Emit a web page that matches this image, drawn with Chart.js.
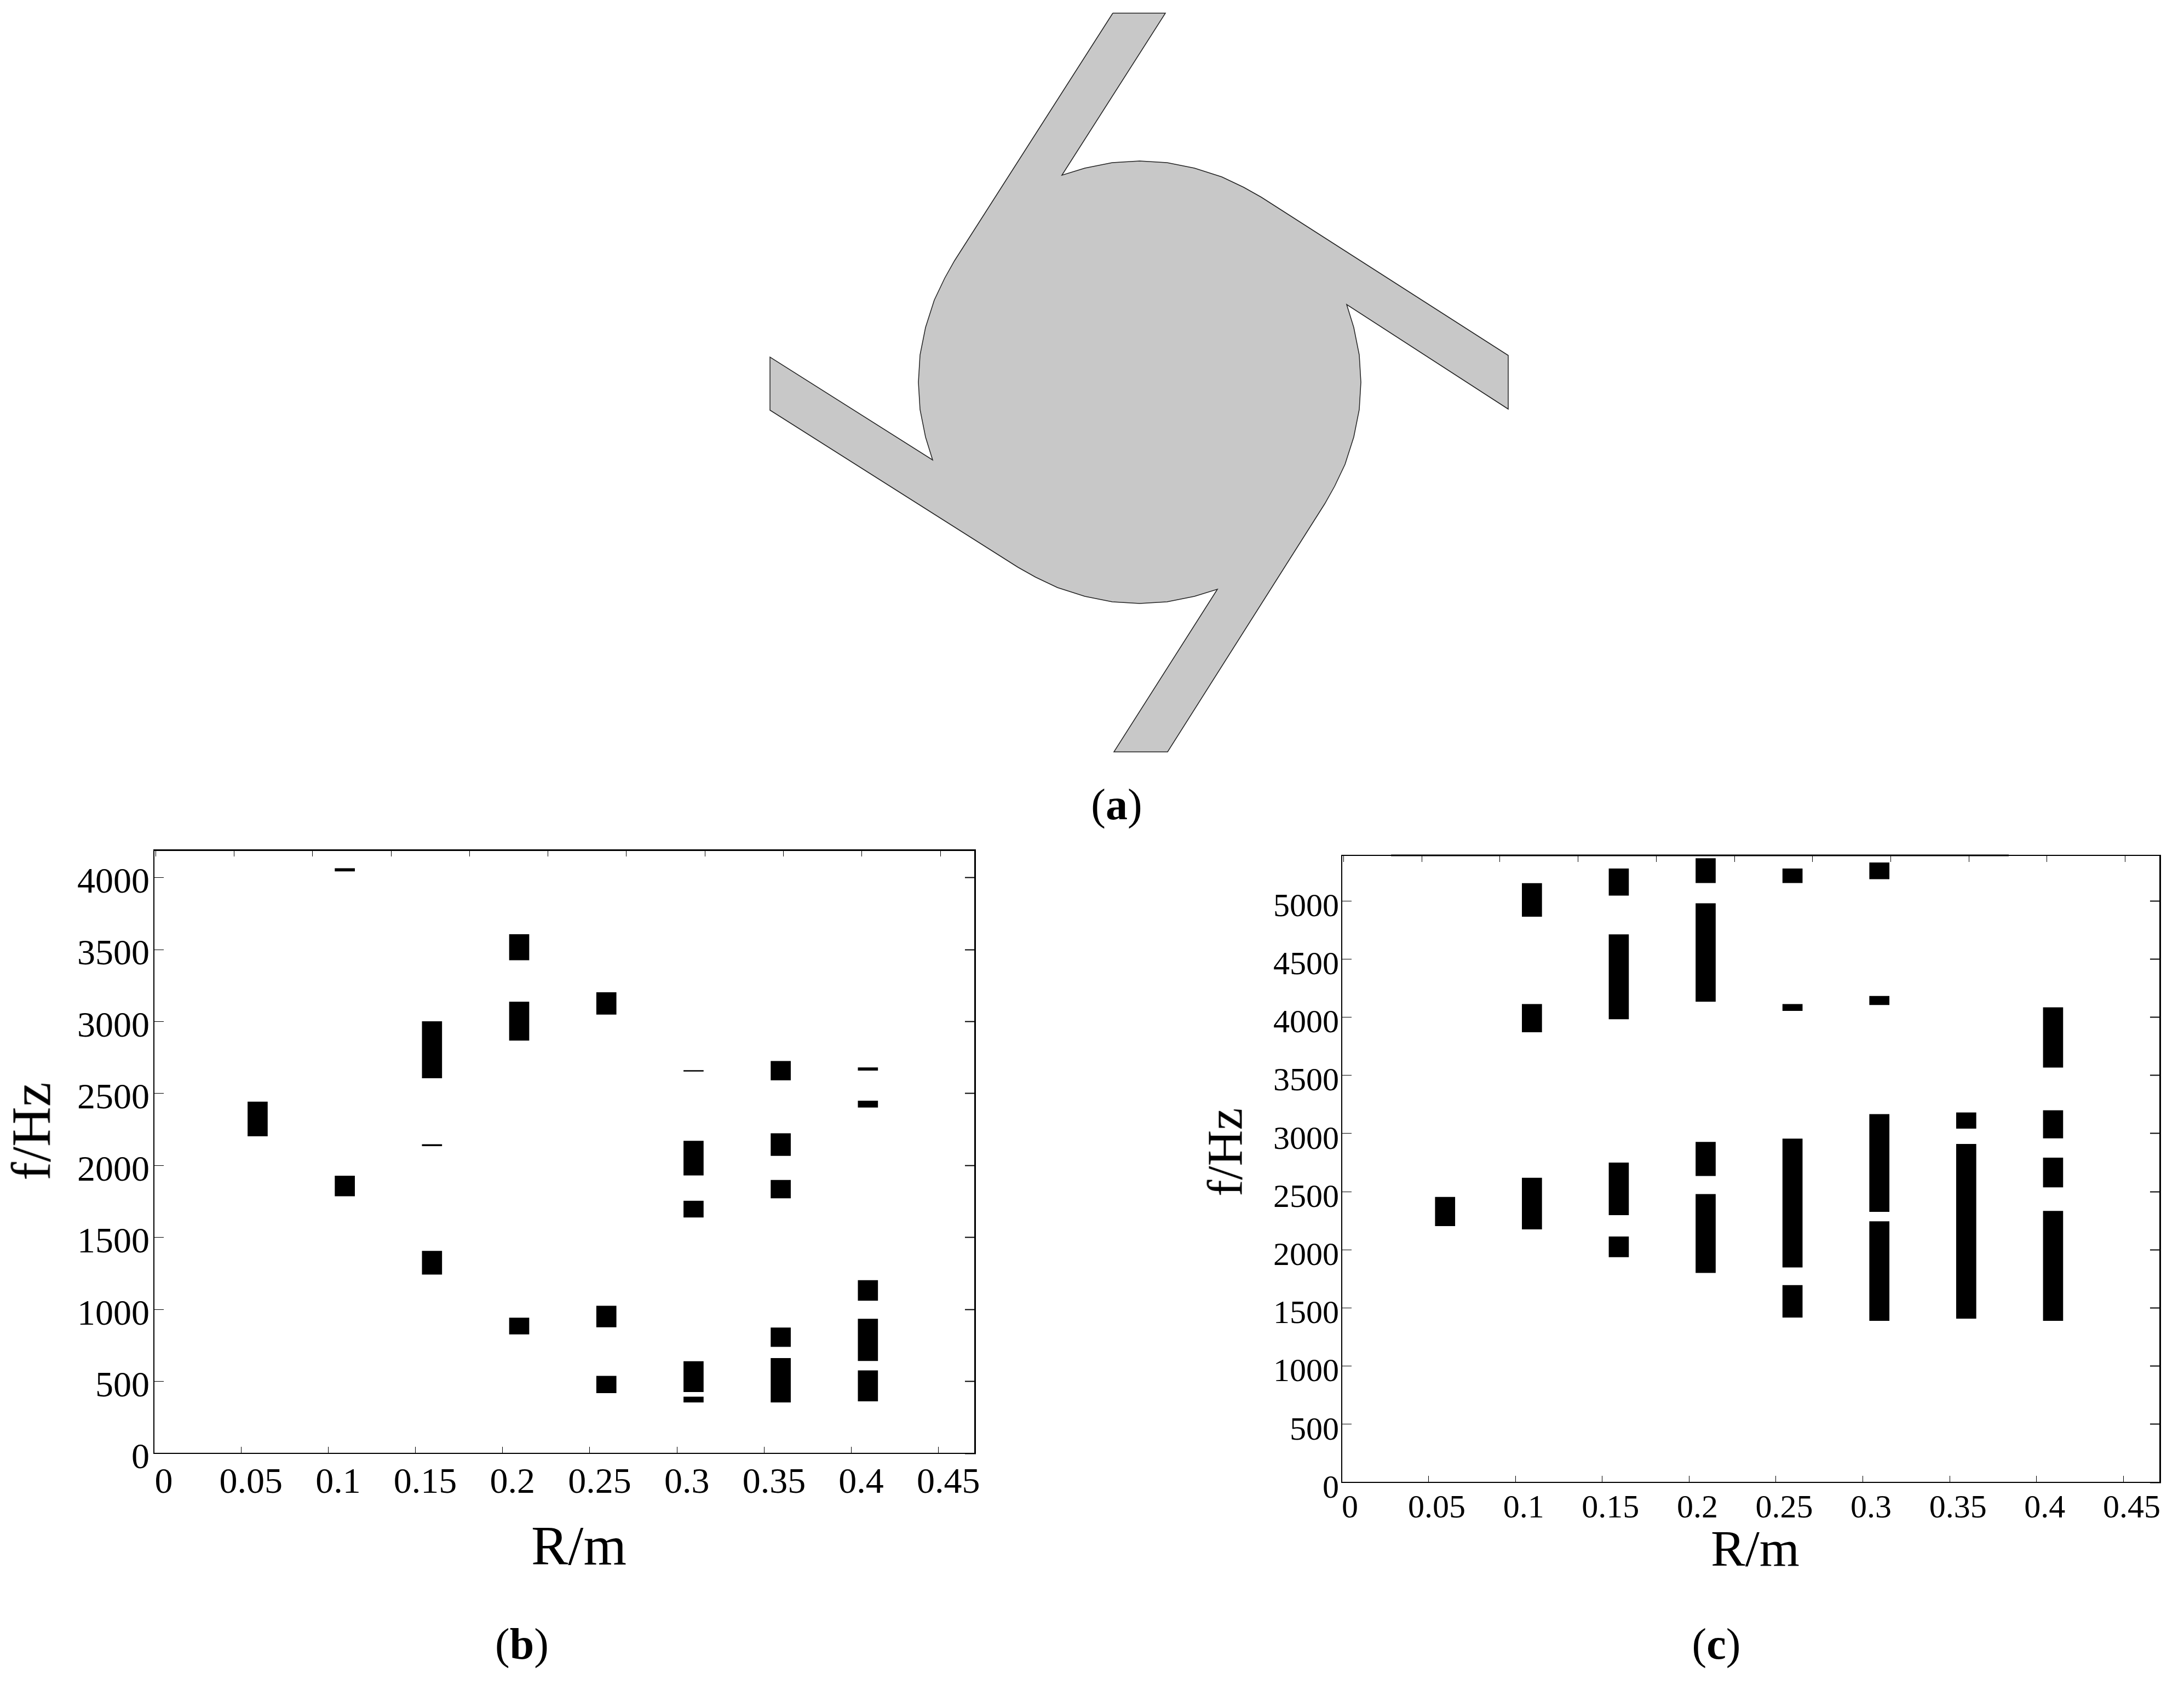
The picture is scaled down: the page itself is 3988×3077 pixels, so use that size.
<!DOCTYPE html>
<html>
<head>
<meta charset="utf-8">
<script src="https://cdn.jsdelivr.net/npm/chart.js@4"></script>
<style>
  html, body { margin: 0; padding: 0; background: #fff; }
  body { position: relative; width: 3988px; height: 3077px; overflow: hidden; font-family: "Liberation Serif", serif; color: #000; }
  canvas { position: absolute; display: block; }
  .txt { position: absolute; white-space: nowrap; line-height: 1; transform: translate(-50%, -50%); }
  .rot { transform: translate(-50%, -50%) rotate(-90deg); }
</style>
</head>
<body>
<canvas id="shape" width="1400" height="1400" style="left:1380px;top:0"></canvas>
<canvas id="chartB" width="1880" height="1360" style="left:0;top:1480px"></canvas>
<canvas id="chartC" width="1788" height="1300" style="left:2200px;top:1500px"></canvas>

<div class="txt" style="left:2039px;top:1469px;font-size:80px">(<b>a</b>)</div>
<div class="txt" style="left:953px;top:3002px;font-size:80px">(<b>b</b>)</div>
<div class="txt" style="left:3134px;top:3002px;font-size:80px">(<b>c</b>)</div>
<div class="txt" style="left:1057px;top:2823px;font-size:101px">R/m</div>
<div class="txt rot" style="left:58px;top:2066px;font-size:101px">f/Hz</div>
<div class="txt" style="left:3205px;top:2827px;font-size:94px">R/m</div>
<div class="txt rot" style="left:2237px;top:2104px;font-size:91px">f/Hz</div>

<script>
// tick labels
const rTicks = [0, 0.05, 0.1, 0.15, 0.2, 0.25, 0.3, 0.35, 0.4, 0.45];
const fTicksB = [0, 500, 1000, 1500, 2000, 2500, 3000, 3500, 4000];
const fTicksC = [0, 500, 1000, 1500, 2000, 2500, 3000, 3500, 4000, 4500, 5000];

// panel (b) band gaps
const bandR_B = [0.0595, 0.1095, 0.1095, 0.1595, 0.1595, 0.1595, 0.2095, 0.2095, 0.2095, 0.2595, 0.2595, 0.2595, 0.3095, 0.3095, 0.3095, 0.3095, 0.3095, 0.3595, 0.3595, 0.3595, 0.3595, 0.3595, 0.4095, 0.4095, 0.4095, 0.4095, 0.4095];
const bandLow_B = [2204, 4045, 1788, 2608, 2136, 1244, 3428, 2869, 828, 3050, 877, 420, 2654, 1932, 1640, 427, 355, 2593, 2068, 1773, 741, 355, 2661, 2404, 1062, 643, 363];
const bandHigh_B = [2442, 4064, 1928, 3001, 2147, 1406, 3606, 3137, 941, 3202, 1024, 537, 2661, 2170, 1754, 639, 393, 2725, 2223, 1898, 873, 661, 2680, 2449, 1202, 934, 575];

// panel (c) band gaps
const bandR_C = [0.0595, 0.1095, 0.1095, 0.1095, 0.1595, 0.1595, 0.1595, 0.1595, 0.2095, 0.2095, 0.2095, 0.2095, 0.2595, 0.2595, 0.2595, 0.2595, 0.3095, 0.3095, 0.3095, 0.3095, 0.3595, 0.3595, 0.4095, 0.4095, 0.4095, 0.4095];
const bandLow_C = [2205, 4865, 3872, 2177, 5047, 3984, 2299, 1938, 5155, 4134, 2636, 1803, 5155, 4055, 1849, 1419, 5188, 4106, 2327, 1391, 3043, 1409, 3568, 2959, 2538, 1391];
const bandHigh_C = [2453, 5150, 4111, 2617, 5277, 4710, 2748, 2112, 5365, 4977, 2926, 2477, 5277, 4111, 2954, 1695, 5328, 4181, 3165, 2243, 3179, 2908, 4083, 3198, 2790, 2332];

// thick piece of the top edge in panel (c)
const topEdgeR = [0.0284, 0.384];
const topEdgeF = [5391, 5391];

// outline of the unit cell in panel (a)
const cellX = [2032, 2128, 1939, 1981, 2031, 2081, 2131, 2181, 2231, 2271, 2303, 2754, 2754, 2459, 2472, 2482, 2485, 2482, 2472, 2456, 2437, 2419, 2132, 2034, 2223, 2181, 2131, 2081, 2031, 1981, 1931, 1891, 1859, 1406, 1406, 1703, 1690, 1680, 1677, 1680, 1690, 1706, 1725, 1743, 2032];
const cellY = [24, 24, 320, 307, 297, 294, 297, 307, 323, 342, 360, 649, 747, 556, 598, 648, 698, 748, 798, 848, 888, 920, 1373, 1373, 1076, 1089, 1099, 1102, 1099, 1089, 1073, 1054, 1036, 749, 652, 840, 798, 748, 698, 648, 598, 548, 508, 476, 24];

Chart.defaults.font.family = '"Liberation Serif", serif';
Chart.defaults.color = "#000";

function zip(xs, ys) {
  return xs.map((x, i) => ({ x: x, y: ys[i] }));
}

function fixedTicks(values) {
  return (scale) => {
    scale.ticks = values.map((v) => ({ value: v }));
  };
}

function bandChart(id, cfg) {
  const datasets = [
    {
      type: "bar",
      data: cfg.r.map((r, i) => ({ x: r, y: [cfg.low[i], cfg.high[i]] })),
      backgroundColor: "#000",
      borderWidth: 0,
      barThickness: 36,
      grouped: false,
    },
  ];
  if (cfg.extra) datasets.push(cfg.extra);

  // negative tickLength turns the tick marks inwards
  const edgeGrid = (len, width) => ({ drawOnChartArea: false, tickLength: -len, tickWidth: width, color: "#000" });

  new Chart(document.getElementById(id), {
    type: "bar",
    data: { datasets: datasets },
    options: {
      responsive: false,
      animation: false,
      devicePixelRatio: 1,
      layout: { padding: cfg.padding, autoPadding: false },
      plugins: { legend: { display: false }, tooltip: { enabled: false } },
      scales: {
        x: {
          type: "linear",
          position: "bottom",
          offset: false,
          min: 0,
          max: cfg.xMax,
          afterBuildTicks: fixedTicks(rTicks),
          afterFit: (s) => { s.height = cfg.xHeight; },
          border: { color: "#000", width: 2 },
          grid: { ...edgeGrid(12, 1), offset: false },
          ticks: {
            autoSkip: false, minRotation: 0, maxRotation: 0,
            font: { size: cfg.fontSize }, padding: cfg.xPad, labelOffset: cfg.xLabelShift,
            callback: (v) => String(v),
          },
        },
        y: {
          type: "linear",
          position: "left",
          min: 0,
          max: cfg.yMax,
          afterBuildTicks: fixedTicks(cfg.yTicks),
          afterFit: (s) => { s.width = cfg.yWidth; },
          border: { color: "#000", width: 2 },
          grid: edgeGrid(18, 1),
          ticks: {
            autoSkip: false,
            font: { size: cfg.fontSize }, padding: 18 + cfg.yGap, labelOffset: cfg.yLabelShift,
            callback: (v) => String(v),
          },
        },
        x2: {
          type: "linear",
          position: "top",
          min: 0,
          max: cfg.xMax,
          afterBuildTicks: fixedTicks(rTicks),
          afterFit: (s) => { s.height = 0; },
          border: { color: "#000", width: cfg.topWidth },
          grid: edgeGrid(12, 1),
          ticks: { display: false },
        },
        y2: {
          type: "linear",
          position: "right",
          min: 0,
          max: cfg.yMax,
          afterBuildTicks: fixedTicks(cfg.yTicks),
          afterFit: (s) => { s.width = 0; },
          border: { color: "#000", width: 3 },
          grid: edgeGrid(18, 2),
          ticks: { display: false },
        },
      },
    },
  });
}

bandChart("chartB", {
  r: bandR_B, low: bandLow_B, high: bandHigh_B,
  xMax: 0.4708, yMax: 4193, yTicks: fTicksB,
  padding: { left: 0, top: 72, right: 100, bottom: 0 },
  xHeight: 186, yWidth: 281, topWidth: 3,
  fontSize: 66, xPad: 27, xLabelShift: 18, yLabelShift: 10, yGap: 8,
});

bandChart("chartC", {
  r: bandR_C, low: bandLow_C, high: bandHigh_C,
  xMax: 0.471, yMax: 5391, yTicks: fTicksC,
  padding: { left: 0, top: 62, right: 44, bottom: 0 },
  xHeight: 93, yWidth: 250, topWidth: 2,
  fontSize: 60, xPad: 24, xLabelShift: 15, yLabelShift: 12, yGap: 5,
  extra: {
    type: "line",
    data: zip(topEdgeR, topEdgeF),
    borderColor: "#000",
    borderWidth: 3,
    pointRadius: 0,
    clip: false,
  },
});

new Chart(document.getElementById("shape"), {
  type: "scatter",
  data: {
    datasets: [
      {
        data: zip(cellX, cellY),
        showLine: true,
        fill: "shape",
        backgroundColor: "#c8c8c8",
        borderColor: "#222",
        borderWidth: 1.5,
        pointRadius: 0,
        clip: false,
      },
    ],
  },
  options: {
    responsive: false,
    animation: false,
    devicePixelRatio: 1,
    plugins: { legend: { display: false }, tooltip: { enabled: false } },
    scales: {
      x: { type: "linear", display: false, min: 1380, max: 2780 },
      y: { type: "linear", display: false, min: 0, max: 1400, reverse: true },
    },
  },
});
</script>
</body>
</html>
